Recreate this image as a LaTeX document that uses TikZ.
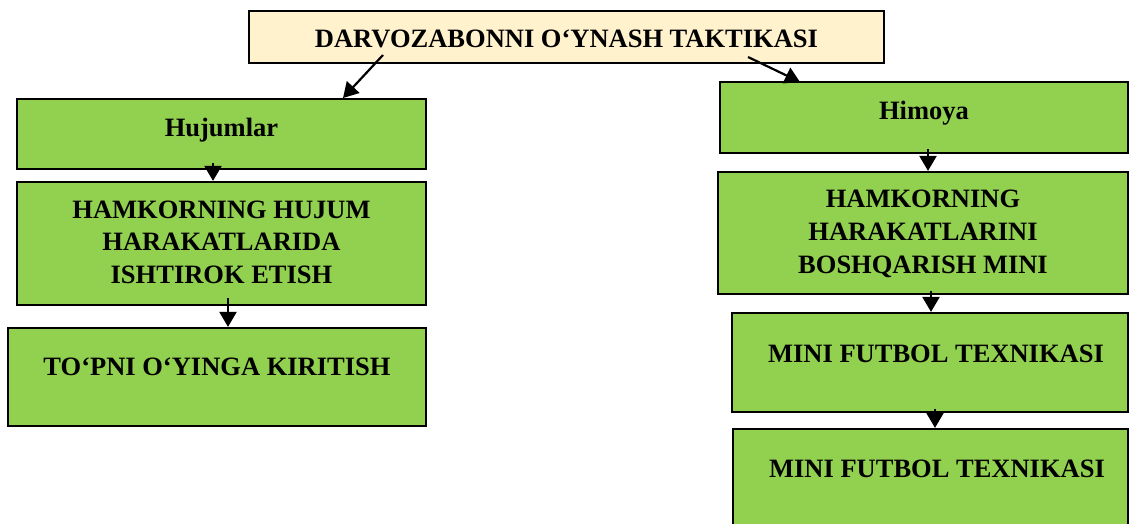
\documentclass[tikz,border=0pt]{standalone}
\usepackage{fontspec}
\setmainfont{Liberation Serif}
\usetikzlibrary{arrows.meta,calc}
\definecolor{boxgreen}{HTML}{92D050}
\definecolor{cream}{HTML}{FFF2CC}
\begin{document}
\begin{tikzpicture}[x=1pt,y=-1pt,
  box/.style={draw=black,line width=2.2pt,fill=boxgreen,minimum width=#1,inner sep=0pt},
  lbl/.style={font=\fontsize{26.5}{32.5}\selectfont\bfseries,align=center,inner sep=0pt,anchor=base},
  arr/.style={line width=2.2pt,-{Triangle[length=15pt,width=17pt]}}]
\useasboundingbox (0,0) rectangle (1129,523);
% boxes
\node[box=635pt,fill=cream,minimum height=52pt] (t) at (566.5,37) {};
\node[box=409pt,minimum height=70pt] (h) at (221.5,134) {};
\node[box=409pt,minimum height=123pt] (b2) at (221.5,243.5) {};
\node[box=418pt,minimum height=98pt] (b3) at (217,377) {};
\node[box=408pt,minimum height=71pt] (m) at (924,117.5) {};
\node[box=410pt,minimum height=122pt] (r2) at (923,233) {};
\node[box=396pt,minimum height=99pt] (r3) at (930,362.5) {};
\node[box=395pt,minimum height=111pt] (r4) at (930.5,484.5) {};
% texts
\node[lbl] (tt) at (566.5,47) {DARVOZABONNI O‘YNASH TAKTIKASI};
\node[lbl] (ht) at (221.5,136) {Hujumlar};
\node[lbl] (b2a) at (221.5,218) {HAMKORNING HUJUM};
\node[lbl] (b2b) at (221.5,250.5) {HARAKATLARIDA};
\node[lbl] (b2c) at (221.5,283) {ISHTIROK ETISH};
\node[lbl] (b3t) at (217,375) {TO‘PNI O‘YINGA KIRITISH};
\node[lbl] (mt) at (924,119) {Himoya};
\node[lbl] (r2a) at (923,207) {HAMKORNING};
\node[lbl] (r2b) at (923,240) {HARAKATLARINI};
\node[lbl] (r2c) at (923,273) {BOSHQARISH MINI};
\node[lbl] (r3t) at (936,362) {MINI FUTBOL TEXNIKASI};
\node[lbl] (r4t) at (937,477) {MINI FUTBOL TEXNIKASI};
% connector ends
\coordinate (a1s) at (383,55);
\coordinate (a1e) at (343,98);
\coordinate (a2s) at (748,57);
\coordinate (a2e) at (800,82);
\coordinate (a3s) at (213,163);
\coordinate (a4s) at (228,298);
\coordinate (a5s) at (928,149);
\coordinate (a6s) at (931,291);
\coordinate (a7s) at (935,409);
% connectors
\draw[arr] (a1s) -- (a1e);
\draw[arr] (a2s) -- (a2e);
\draw[arr] (a3s) -- (a3s |- b2.north);
\draw[arr] (a4s) -- (a4s |- b3.north);
\draw[arr] (a5s) -- (a5s |- r2.north);
\draw[arr] (a6s) -- (a6s |- r3.north);
\draw[arr] (a7s) -- (a7s |- r4.north);
\end{tikzpicture}
\end{document}
